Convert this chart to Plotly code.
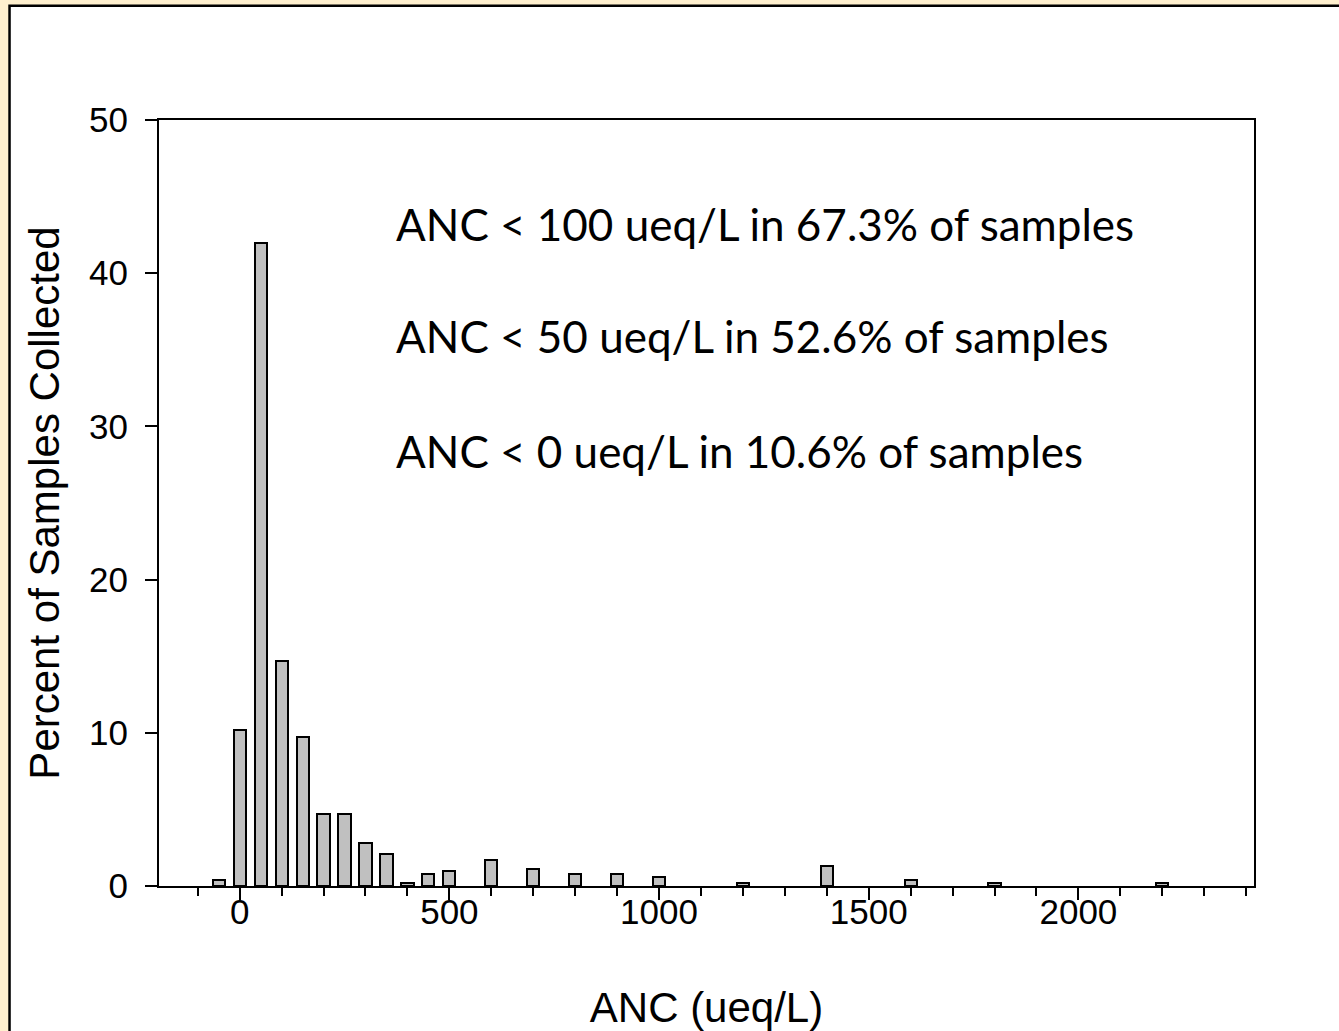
import plotly.graph_objects as go

# Histogram of ANC (acid neutralizing capacity) in collected samples
bin_centers = [-50, 0, 50, 100, 150, 200, 250, 300, 350, 400, 450, 500,
               600, 700, 800, 900, 1000, 1200, 1400, 1600, 1800, 2200]
percent_samples = [0.4, 10.2, 42.0, 14.7, 9.7, 4.7, 4.7, 2.8, 2.1, 0.2, 0.8, 1.0,
                   1.7, 1.1, 0.8, 0.8, 0.6, 0.2, 1.3, 0.4, 0.2, 0.2]

summary_lines = [
    "ANC < 100 ueq/L in 67.3% of samples",
    "ANC < 50 ueq/L in 52.6% of samples",
    "ANC < 0 ueq/L in 10.6% of samples",
]
summary_y = [43.2, 35.9, 28.4]

x_ticks = [0, 500, 1000, 1500, 2000]
y_ticks = [0, 10, 20, 30, 40, 50]

CREAM = "#FFF0CE"
AXIS_FONT = "Liberation Sans, Arial, sans-serif"

fig = go.Figure()
fig.add_trace(go.Bar(
    x=bin_centers,
    y=percent_samples,
    width=29,
    marker=dict(color="#C0C0C0", line=dict(color="black", width=2)),
    showlegend=False,
))

for text, yv in zip(summary_lines, summary_y):
    fig.add_annotation(
        x=369, y=yv, xref="x", yref="y",
        text=text, showarrow=False,
        xanchor="left", yanchor="middle",
        font=dict(family="Lato, 'Open Sans', sans-serif", size=44, color="black"),
    )

# white slide panel with black frame on a cream page
fig.add_shape(
    type="rect", xref="paper", yref="paper",
    x0=-0.1365, x1=1.09, y0=-0.2, y1=1.1493,
    fillcolor="white", line=dict(color="black", width=2.5),
    layer="below",
)

fig.update_layout(
    width=1339, height=1031,
    margin=dict(l=159, r=85, t=119.5, b=145.3, pad=0, autoexpand=False),
    paper_bgcolor=CREAM,
    plot_bgcolor="white",
    bargap=0,
    font=dict(family=AXIS_FONT, color="black"),
)

fig.update_xaxes(
    range=[-192.4, 2418.7],
    automargin=False,
    tickmode="array", tickvals=x_ticks, ticktext=[str(v) for v in x_ticks],
    ticks="outside", ticklen=12, tickwidth=2, tickcolor="black",
    minor=dict(dtick=100, tick0=0, ticks="outside", ticklen=8, tickwidth=2, tickcolor="black"),
    showline=True, linewidth=2, linecolor="black", mirror=True,
    showgrid=False, zeroline=False,
    tickfont=dict(size=35, family=AXIS_FONT),
    ticklabelstandoff=-18,
    title=dict(text="ANC (ueq/L)", font=dict(size=42, family=AXIS_FONT), standoff=76),
)
fig.update_yaxes(
    range=[0, 50],
    automargin=False,
    tickmode="array", tickvals=y_ticks, ticktext=[str(v) for v in y_ticks],
    ticks="outside", ticklen=12, tickwidth=2, tickcolor="black",
    showline=True, linewidth=2, linecolor="black", mirror=True,
    showgrid=False, zeroline=False,
    tickfont=dict(size=35, family=AXIS_FONT),
    ticklabelstandoff=10,
    title=dict(text="Percent of Samples Collected", font=dict(size=42, family=AXIS_FONT), standoff=16),
)

fig.write_html("out.html")
